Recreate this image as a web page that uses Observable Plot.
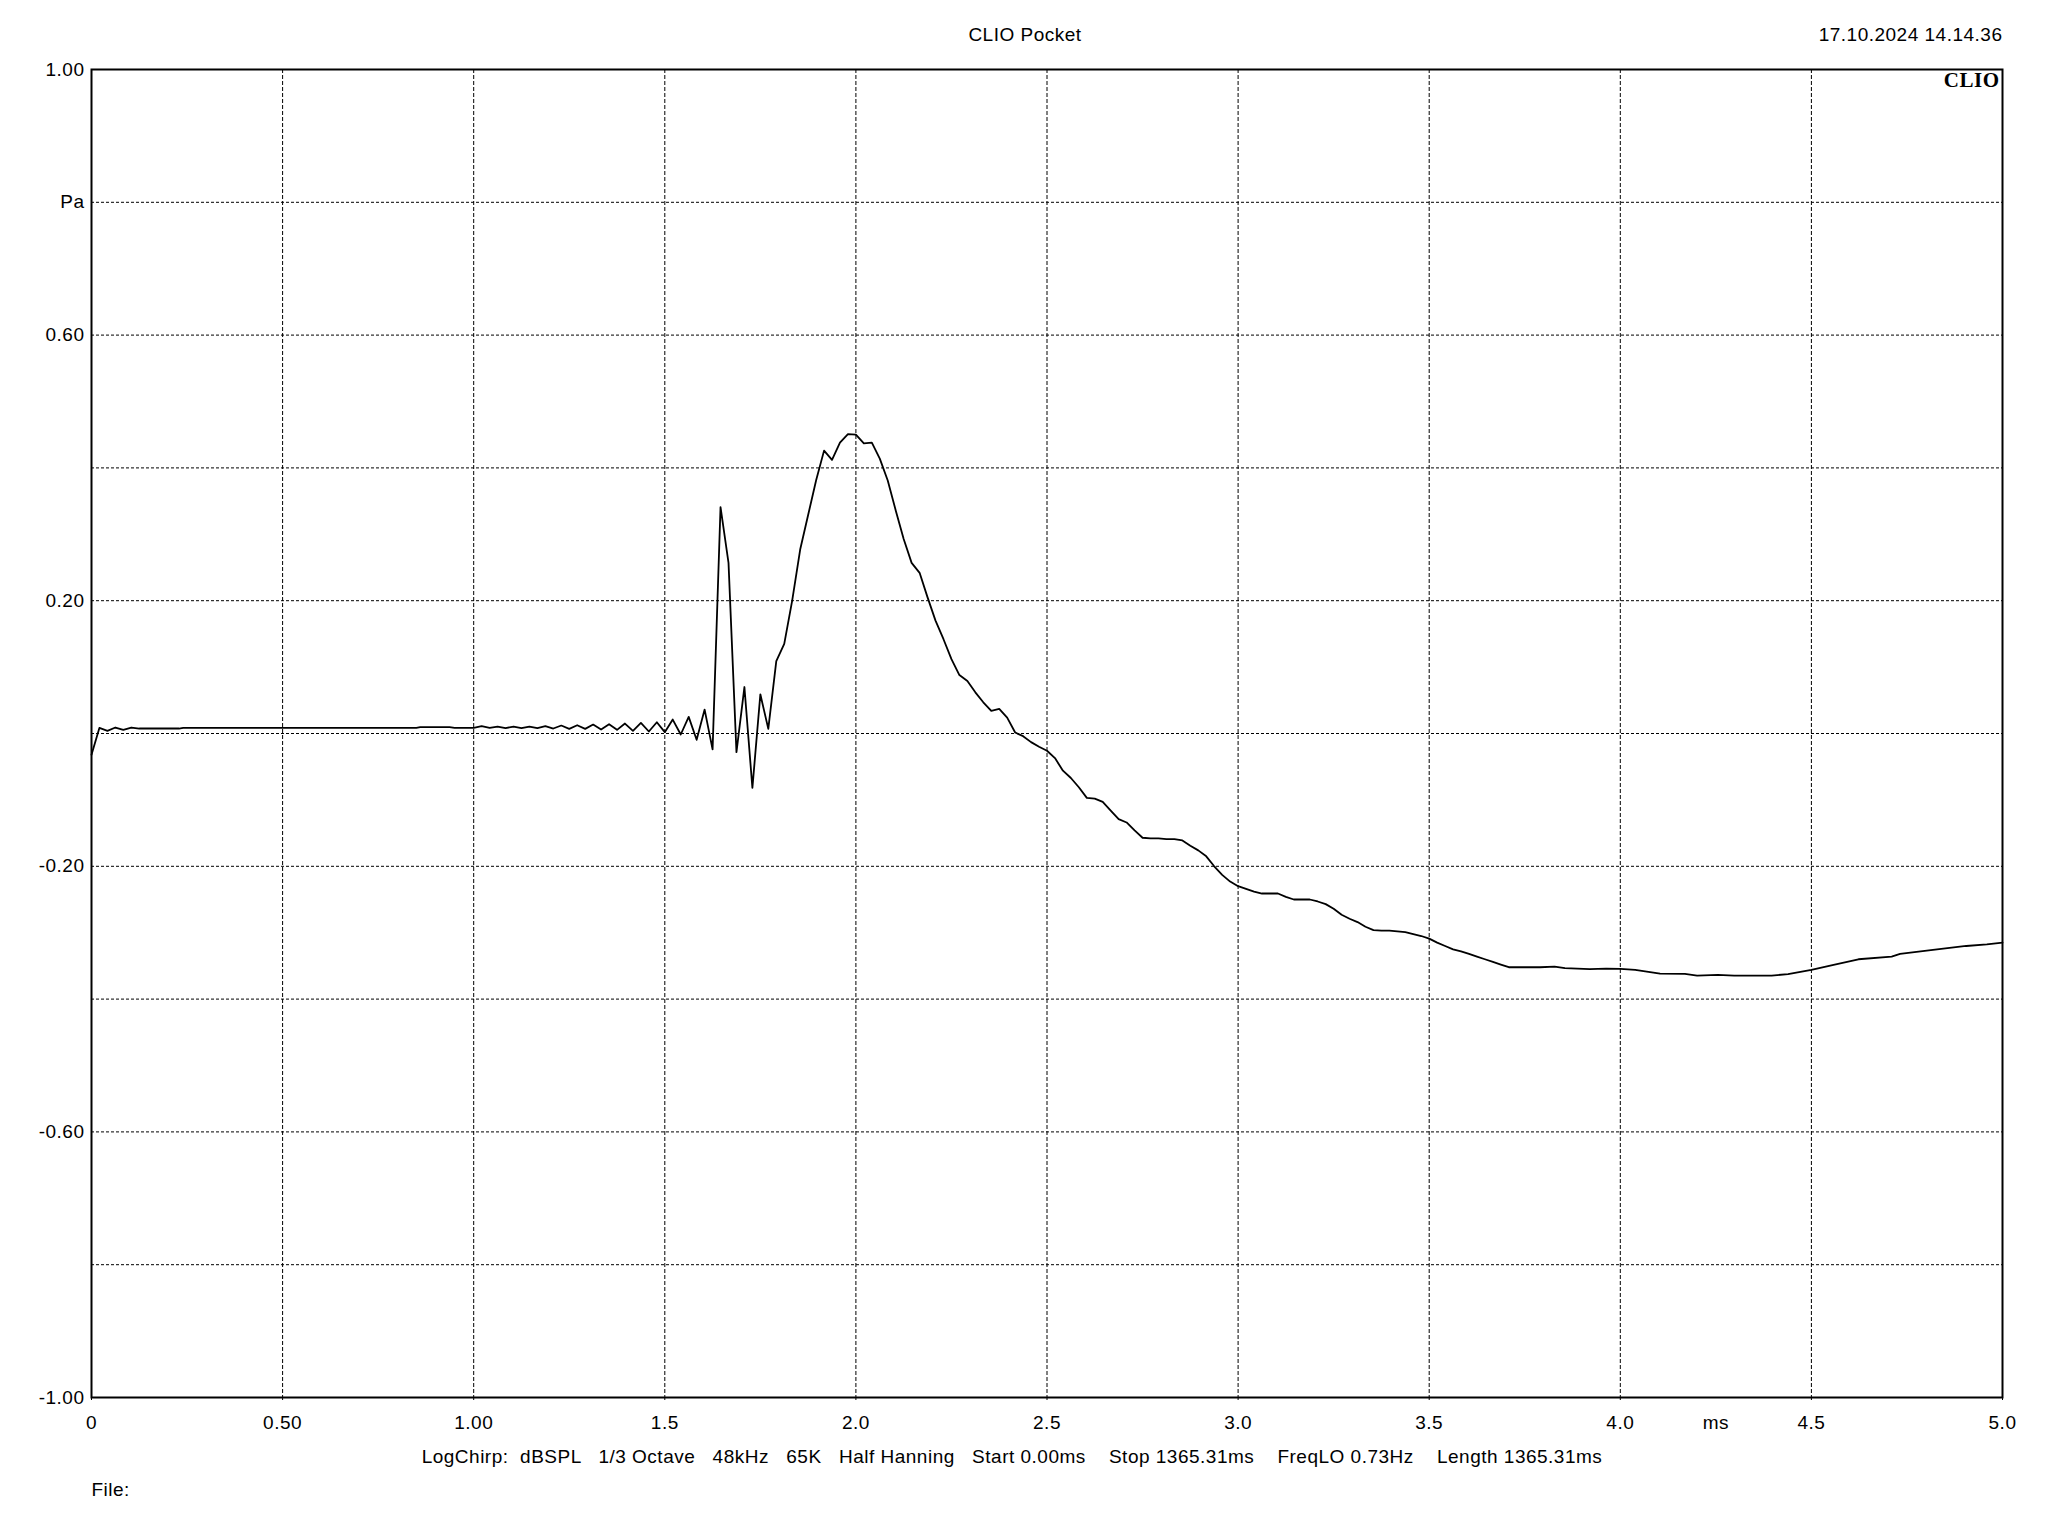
<!DOCTYPE html>
<html>
<head>
<meta charset="utf-8">
<script src="https://cdn.jsdelivr.net/npm/d3@7"></script>
<script src="https://cdn.jsdelivr.net/npm/@observablehq/plot@0.6"></script>
<style>
  html, body { margin: 0; padding: 0; background: #fff; overflow: hidden; }
  #chart svg text { white-space: pre; letter-spacing: 0.5px; }
</style>
</head>
<body>
<div id="chart"></div>
<script>
// ---- Data (time in ms, pressure in Pa) ----
const timeMs = [
  0.000, 0.0208, 0.0417, 0.0625, 0.0833, 0.1042, 0.125, 0.229, 0.240, 0.850, 0.860, 0.937, 0.950,
  1.0000, 1.0208, 1.0417, 1.0625, 1.0833, 1.1042, 1.1250, 1.1458, 1.1667, 1.1875,
  1.2083, 1.2292, 1.2500, 1.2708, 1.2917, 1.3125, 1.3333, 1.3542, 1.3750, 1.3958,
  1.4167, 1.4375, 1.4583, 1.4792, 1.5000, 1.5208, 1.5417, 1.5625, 1.5833, 1.6042,
  1.6250, 1.6458, 1.6667, 1.6875, 1.7083, 1.7292, 1.7500, 1.7708, 1.7917, 1.8125,
  1.8333, 1.8542, 1.8750, 1.8958, 1.9167, 1.9375, 1.9583, 1.9792, 2.0000, 2.0208,
  2.0417, 2.0625, 2.0833, 2.1042, 2.1250, 2.1458, 2.1667, 2.1875, 2.2083, 2.2292,
  2.2500, 2.2708, 2.2917, 2.3125, 2.3333, 2.3542, 2.3750, 2.3958, 2.4167, 2.4375,
  2.4583, 2.4792, 2.5000, 2.5208, 2.5417, 2.5625, 2.5833, 2.6042, 2.6250, 2.6458,
  2.6667, 2.6875, 2.7083, 2.7292, 2.7500, 2.7708, 2.7917, 2.8125, 2.8333, 2.8542,
  2.8750, 2.8958, 2.9167, 2.9375, 2.9583, 2.9792, 3.0000, 3.0208, 3.0417, 3.0625,
  3.0833, 3.1042, 3.1250, 3.1458, 3.1667, 3.1875, 3.2083, 3.2292, 3.2500, 3.2708,
  3.2917, 3.3125, 3.3333, 3.3542, 3.3750, 3.3958, 3.4167, 3.4375, 3.4583, 3.4792,
  3.5000, 3.5208, 3.5417, 3.5625, 3.5833, 3.6042, 3.6250, 3.6458, 3.6667, 3.6875,
  3.7083, 3.750, 3.790, 3.828, 3.855, 3.920, 3.963, 4.000, 4.039, 4.104,
  4.169, 4.201, 4.255, 4.298, 4.396, 4.439, 4.500, 4.558, 4.623, 4.710,
  4.732, 4.818, 4.905, 4.959, 5.000
];
const pressurePa = [
  -0.032, 0.0085, 0.004, 0.009, 0.0055, 0.009, 0.0075, 0.0075, 0.0085, 0.0085, 0.0095, 0.0095, 0.0085,
  0.0085, 0.011, 0.0085, 0.0105, 0.008, 0.0105, 0.008, 0.0105, 0.008, 0.011,
  0.0075, 0.012, 0.007, 0.0125, 0.007, 0.0135, 0.006, 0.014, 0.0055, 0.015,
  0.004, 0.016, 0.003, 0.017, 0.002, 0.021, -0.0015, 0.025, -0.0095, 0.036,
  -0.024, 0.341, 0.257, -0.028, 0.070, -0.082, 0.059, 0.007, 0.109, 0.135,
  0.200, 0.277, 0.329, 0.381, 0.426, 0.412, 0.438, 0.451, 0.450, 0.437,
  0.438, 0.414, 0.381, 0.336, 0.293, 0.257, 0.242, 0.205, 0.170, 0.142,
  0.112, 0.088, 0.079, 0.062, 0.047, 0.034, 0.037, 0.024, 0.0015, -0.004,
  -0.013, -0.020, -0.026, -0.037, -0.056, -0.067, -0.081, -0.097, -0.098, -0.103,
  -0.116, -0.129, -0.134, -0.146, -0.157, -0.158, -0.158, -0.159, -0.159, -0.161,
  -0.169, -0.176, -0.185, -0.200, -0.213, -0.223, -0.230, -0.234, -0.238, -0.241,
  -0.241, -0.241, -0.246, -0.250, -0.250, -0.250, -0.253, -0.257, -0.264, -0.273,
  -0.279, -0.284, -0.291, -0.296, -0.297, -0.297, -0.298, -0.299, -0.302, -0.305,
  -0.309, -0.315, -0.320, -0.325, -0.328, -0.332, -0.336, -0.340, -0.344, -0.348,
  -0.352, -0.352, -0.352, -0.351, -0.3535, -0.355, -0.354, -0.3545, -0.356, -0.3615,
  -0.362, -0.3645, -0.3635, -0.3645, -0.3645, -0.3625, -0.356, -0.3485, -0.340, -0.336,
  -0.332, -0.326, -0.320, -0.3175, -0.315
];

// ---- Ticks and labels ----
const xTicks = [0, 0.5, 1.0, 1.5, 2.0, 2.5, 3.0, 3.5, 4.0, 4.5, 5.0];
const xTickLabels = ["0", "0.50", "1.00", "1.5", "2.0", "2.5", "3.0", "3.5", "4.0", "4.5", "5.0"];
const yTicks = [1.0, 0.8, 0.6, 0.4, 0.2, 0, -0.2, -0.4, -0.6, -0.8, -1.0];
const yTickLabels = ["1.00", "Pa", "0.60", "", "0.20", "", "-0.20", "", "-0.60", "", "-1.00"];
const xUnit = [{x: 4.25, text: "ms"}];

// ---- Texts ----
const titleText = ["CLIO Pocket"];
const dateText = ["17.10.2024 14.14.36"];
const brandText = ["CLIO"];
const footerText = ["LogChirp:  dBSPL   1/3 Octave   48kHz   65K   Half Hanning   Start 0.00ms    Stop 1365.31ms    FreqLO 0.73Hz    Length 1365.31ms"];
const fileText = ["File:"];

const data = timeMs.map((t, i) => ({t, p: pressurePa[i]}));
const lab = (ticks, labels) => d => {
  const i = ticks.findIndex(v => Math.abs(v - d) < 1e-9);
  return i < 0 ? "" : labels[i];
};

const chart = Plot.plot({
  width: 2048,
  height: 1536,
  marginLeft: 91,
  marginRight: 46,
  marginTop: 69,
  marginBottom: 139,
  style: {fontFamily: "'Liberation Sans', Arial, sans-serif", fontSize: "19px", color: "black", background: "white"},
  x: {domain: [0, 5]},
  y: {domain: [-1, 1]},
  marks: [
    Plot.gridX(xTicks, {stroke: "black", strokeOpacity: 1, strokeWidth: 1, strokeDasharray: "4,2"}),
    Plot.gridY(yTicks, {stroke: "black", strokeOpacity: 1, strokeWidth: 1, strokeDasharray: "3,2"}),
    Plot.axisX({ticks: xTicks, tickFormat: lab(xTicks, xTickLabels), tickSize: 3, tickPadding: 15, label: null, fontSize: 19}),
    Plot.axisY({ticks: yTicks, tickFormat: lab(yTicks, yTickLabels), tickSize: 0, tickPadding: 7, label: null, fontSize: 19}),
    Plot.frame({stroke: "black", strokeWidth: 2}),
    Plot.line(data, {x: "t", y: "p", stroke: "black", strokeWidth: 1.8}),
    Plot.text(xUnit, {x: "x", text: "text", frameAnchor: "bottom", lineAnchor: "top", dy: 18, fontSize: 19}),
    Plot.text(titleText, {frameAnchor: "top", dx: -22, dy: -35, lineAnchor: "middle", fontSize: 19}),
    Plot.text(dateText, {frameAnchor: "top-right", textAnchor: "end", dy: -35, lineAnchor: "middle", fontSize: 19}),
    Plot.text(brandText, {frameAnchor: "top-right", textAnchor: "end", dx: -3, dy: 17, lineAnchor: "bottom", fontFamily: "'Liberation Serif', 'Times New Roman', serif", fontWeight: "bold", fontSize: 21}),
    Plot.text(footerText, {frameAnchor: "bottom", dx: -35, dy: 59, lineAnchor: "middle", fontSize: 19}),
    Plot.text(fileText, {frameAnchor: "bottom-left", textAnchor: "start", dy: 92, lineAnchor: "middle", fontSize: 19})
  ]
});
document.getElementById("chart").appendChild(chart);
</script>
</body>
</html>
